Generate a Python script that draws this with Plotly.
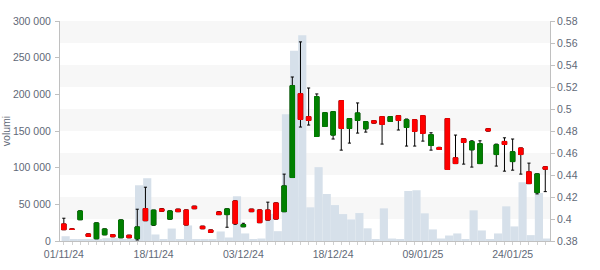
import plotly.graph_objects as go

dates = [
    "01/11/24", "04/11/24", "05/11/24", "06/11/24", "07/11/24", "08/11/24",
    "11/11/24", "12/11/24", "13/11/24", "14/11/24", "15/11/24",
    "18/11/24", "19/11/24", "20/11/24", "21/11/24", "22/11/24",
    "25/11/24", "26/11/24", "27/11/24", "28/11/24", "29/11/24",
    "02/12/24", "03/12/24", "04/12/24", "05/12/24", "06/12/24",
    "09/12/24", "10/12/24", "11/12/24", "12/12/24", "13/12/24",
    "16/12/24", "17/12/24", "18/12/24", "19/12/24", "20/12/24",
    "23/12/24", "27/12/24", "30/12/24",
    "02/01/25", "03/01/25", "06/01/25", "07/01/25", "08/01/25", "09/01/25",
    "10/01/25", "13/01/25", "14/01/25", "15/01/25", "16/01/25", "17/01/25",
    "20/01/25", "21/01/25", "22/01/25", "23/01/25", "24/01/25",
    "27/01/25", "28/01/25", "29/01/25", "30/01/25",
]

open_ = [0.3955, 0.3910, 0.3994, 0.3864, 0.3821, 0.3857, 0.3857, 0.3830, 0.3852, 0.3821,
         0.4094, 0.3946, 0.4092, 0.3999, 0.4089, 0.4082, 0.4116, 0.3934, 0.3900, 0.4064,
         0.4040, 0.4164, 0.3930, 0.4089, 0.4082, 0.4082, 0.4146, 0.4067, 0.4377, 0.5139,
         0.4930, 0.4750, 0.4841, 0.4763, 0.5076, 0.4823, 0.4896, 0.4820, 0.4893, 0.4930,
         0.4887, 0.4939, 0.4832, 0.4902, 0.4939, 0.4668, 0.4650, 0.4912, 0.4556, 0.4729,
         0.4629, 0.4504, 0.4820, 0.4586, 0.4705, 0.4522, 0.4645, 0.4429, 0.4240, 0.4474]
high = [0.4007, 0.3910, 0.4073, 0.3864, 0.3964, 0.3909, 0.3857, 0.3991, 0.3852, 0.4089,
        0.4289, 0.4080, 0.4095, 0.4073, 0.4089, 0.4082, 0.4116, 0.3934, 0.3900, 0.4067,
        0.4092, 0.4164, 0.3961, 0.4089, 0.4082, 0.4153, 0.4146, 0.4408, 0.5291, 0.5610,
        0.5191, 0.5137, 0.4966, 0.4975, 0.5076, 0.4912, 0.5055, 0.4884, 0.4893, 0.4930,
        0.4930, 0.4939, 0.4909, 0.4902, 0.4939, 0.4784, 0.4652, 0.4912, 0.4763, 0.4729,
        0.4711, 0.4711, 0.4822, 0.4681, 0.4738, 0.4727, 0.4645, 0.4508, 0.4410, 0.4474]
low = [0.3903, 0.3905, 0.3994, 0.3842, 0.3821, 0.3857, 0.3839, 0.3830, 0.3830, 0.3809,
       0.3985, 0.3943, 0.4071, 0.3999, 0.4067, 0.3946, 0.4094, 0.3912, 0.3879, 0.4040,
       0.3925, 0.3952, 0.3930, 0.4067, 0.3967, 0.3991, 0.4000, 0.4067, 0.4377, 0.4836,
       0.4854, 0.4750, 0.4841, 0.4727, 0.4626, 0.4690, 0.4781, 0.4790, 0.4872, 0.4681,
       0.4887, 0.4809, 0.4663, 0.4663, 0.4708, 0.4626, 0.4632, 0.4450, 0.4504, 0.4499,
       0.4472, 0.4504, 0.4800, 0.4481, 0.4435, 0.4444, 0.4408, 0.4322, 0.4228, 0.4249]
close = [0.3903, 0.3905, 0.4073, 0.3842, 0.3964, 0.3909, 0.3839, 0.3991, 0.3830, 0.3928,
         0.3985, 0.4080, 0.4071, 0.4073, 0.4067, 0.3946, 0.4094, 0.3912, 0.3879, 0.4040,
         0.4092, 0.3958, 0.3949, 0.4067, 0.3967, 0.3991, 0.4000, 0.4301, 0.5212, 0.4905,
         0.4896, 0.5112, 0.4966, 0.4975, 0.4823, 0.4912, 0.4964, 0.4884, 0.4872, 0.4860,
         0.4930, 0.4896, 0.4902, 0.4796, 0.4778, 0.4766, 0.4632, 0.4450, 0.4504, 0.4696,
         0.4705, 0.4684, 0.4800, 0.4675, 0.4678, 0.4611, 0.4586, 0.4322, 0.4410, 0.4453]
volume = [6500, 2000, 2000, 2000, 2000, 3800, 3800, 2500, 2000, 76000,
          85600, 8900, 2000, 17000, 1500, 21200, 2500, 2500, 2000, 13000,
          4800, 61000, 10300, 2000, 3400, 37000, 13400, 173000, 259600, 280500,
          45900, 100700, 64100, 49000, 36700, 29500, 38100, 17300, 2000, 44500,
          3400, 2000, 68200, 69200, 37700, 15800, 3400, 7500, 10300, 2000,
          41800, 14400, 2000, 10300, 47300, 19900, 80100, 8000, 65500, 3400]

label_dates = ["01/11/24", "18/11/24", "03/12/24", "18/12/24", "09/01/25", "24/01/25"]
price_bands = [(0.40, 0.42), (0.44, 0.46), (0.48, 0.50), (0.52, 0.54), (0.56, 0.58)]

TXT = "#5f6977"
LINE = "#c0c0c0"
GREEN = "#008000"
RED = "#ff0000"

body_top = [max(o, c) for o, c in zip(open_, close)]
body_bot = [min(o, c) for o, c in zip(open_, close)]

fig = go.Figure()

fig.add_trace(go.Bar(
    x=dates, y=volume, yaxis="y", marker=dict(color="#d6e0ea", line=dict(width=0)),
    width=1.0, offset=-0.28, hoverinfo="skip", showlegend=False,
))

fig.add_trace(go.Candlestick(
    x=dates, open=open_, high=high, low=low, close=close, yaxis="y2",
    increasing=dict(line=dict(color="black", width=1), fillcolor="black"),
    decreasing=dict(line=dict(color="black", width=1), fillcolor="black"),
    whiskerwidth=0.7, hoverinfo="skip", showlegend=False,
))

fig.add_trace(go.Candlestick(
    x=dates, open=open_, high=body_top, low=body_bot, close=close, yaxis="y2",
    increasing=dict(line=dict(color=GREEN, width=1), fillcolor=GREEN),
    decreasing=dict(line=dict(color=RED, width=1), fillcolor=RED),
    whiskerwidth=0, hoverinfo="skip", showlegend=False,
))

shapes = []
for y0, y1 in price_bands:
    shapes.append(dict(type="rect", xref="paper", x0=0, x1=1, yref="y2", y0=y0, y1=y1,
                       fillcolor="#f7f7f7", line=dict(width=0), layer="below"))

ticktext = [d if d in label_dates else "" for d in dates]

fig.update_layout(
    width=600, height=270,
    margin=dict(l=60, r=50, t=21, b=29, autoexpand=False),
    paper_bgcolor="white", plot_bgcolor="white",
    font=dict(family="Liberation Sans, Arial, sans-serif", size=10.5, color=TXT),
    separators=". ",
    showlegend=False,
    boxmode="overlay", boxgap=0.45, boxgroupgap=0,
    shapes=shapes,
    xaxis=dict(
        type="category", range=[-0.47, 59.58],
        tickmode="array", tickvals=dates, ticktext=ticktext,
        ticks="outside", ticklen=3, tickcolor="#d0d0d0", tickwidth=1,
        showline=True, linecolor=LINE, linewidth=1,
        showgrid=False, zeroline=False, automargin=False,
        rangeslider=dict(visible=False),
        tickangle=0,
    ),
    yaxis=dict(
        range=[0, 300000], dtick=50000, tickformat=",",
        ticks="outside", ticklen=4, tickcolor=LINE,
        showline=True, linecolor=LINE, linewidth=1,
        showgrid=False, zeroline=False, ticklabelstandoff=2, automargin=False,
        title=dict(text="volumi", standoff=7, font=dict(size=10.5, color=TXT)),
    ),
    yaxis2=dict(
        range=[0.38, 0.58], dtick=0.02, overlaying="y", side="right",
        ticks="outside", ticklen=4, tickcolor=LINE,
        showline=True, linecolor=LINE, linewidth=1,
        showgrid=False, zeroline=False, automargin=False,
    ),
)

fig.write_html("out.html")
